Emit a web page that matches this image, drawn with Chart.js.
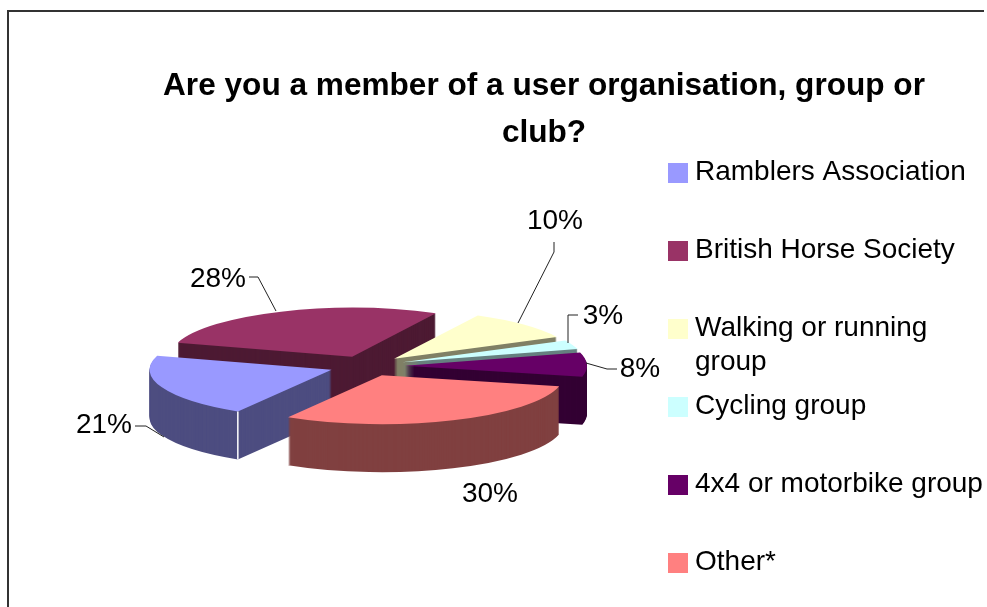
<!DOCTYPE html>
<html>
<head>
<meta charset="utf-8">
<title>Are you a member of a user organisation, group or club?</title>
<script src="https://cdn.jsdelivr.net/npm/chart.js@4/dist/chart.umd.js"></script>
<style>
    html, body { margin: 0; padding: 0; background: #fff; overflow: hidden; }
    canvas { display: block; }
</style>
</head>
<body>
<canvas id="memberChart" width="987" height="607"></canvas>
<script>
const categories = [
    'Ramblers Association',
    'British Horse Society',
    'Walking or running group',
    'Cycling group',
    '4x4 or motorbike group',
    'Other*'
];
const memberPercent = [21, 28, 10, 3, 8, 30];
const titleLines = ['Are you a member of a user organisation, group or', 'club?'];

const topColors = ['#9999ff', '#993366', '#ffffcc', '#ccffff', '#660066', '#ff8080'];
const sideColors = ['#4d4d80', '#4d1a33', '#808066', '#668080', '#330033', '#804040'];

// where the tilted pie sits on the page
const pieCenter = { x: 367, y: 366 };
const pieSquash = 0.268;
const pieDepth = 48;
const pieExplode = 38;

// label text centre, then the leader line going in to the slice
const labelSpots = [
    { x: 104, y: 425, leader: [[135, 426], [146, 426], [164, 437]] },
    { x: 218, y: 279, leader: [[249, 277], [258, 277], [276, 311]] },
    { x: 555, y: 221, leader: [[554, 242], [554, 252], [518, 323]] },
    { x: 603, y: 316, leader: [[578, 315], [568, 315], [568, 343]] },
    { x: 640, y: 369, leader: [[617, 369], [607, 369], [586, 363]] },
    { x: 490, y: 494, leader: null }
];

const legendSpot = { x: 668, y: 163, box: 20, textX: 695, pitch: 78, lineHeight: 34, maxWidth: 292 };
const textFont = '28px "Liberation Sans", Arial, sans-serif';

const drawSlice = (ctx, arc, color, drop) => {
    const mid = (arc.startAngle + arc.endAngle) / 2;
    const original = arc.options;
    arc.options = Object.assign({}, original, { backgroundColor: color });
    ctx.save();
    ctx.translate(pieCenter.x, pieCenter.y + drop);
    ctx.scale(1, pieSquash);
    ctx.translate(Math.cos(mid) * pieExplode - arc.x, Math.sin(mid) * pieExplode - arc.y);
    arc.draw(ctx);
    ctx.restore();
    arc.options = original;
};

const tiltedPie = {
    id: 'tiltedPie',
    beforeDraw(chart) {
        const { ctx } = chart;
        ctx.save();
        ctx.fillStyle = '#fff';
        ctx.fillRect(0, 0, chart.width, chart.height);
        ctx.strokeStyle = '#333';
        ctx.lineWidth = 2;
        ctx.beginPath();
        ctx.moveTo(8, 607);
        ctx.lineTo(8, 11);
        ctx.lineTo(984, 11);
        ctx.stroke();
        ctx.restore();
    },
    beforeDatasetDraw(chart, args) {
        const { ctx } = chart;
        // back slices first so the front ones cover them
        const order = args.meta.data
            .map((arc, i) => ({ arc, i }))
            .sort((a, b) => Math.sin((a.arc.startAngle + a.arc.endAngle) / 2) - Math.sin((b.arc.startAngle + b.arc.endAngle) / 2));

        for (const { arc, i } of order) {
            for (let drop = pieDepth; drop > 0; drop--) {
                drawSlice(ctx, arc, sideColors[i], drop);
            }
            drawSlice(ctx, arc, topColors[i], 0);

            if (i === 0) {
                // pale edge at the front corner of the first slice
                const mid = (arc.startAngle + arc.endAngle) / 2;
                const cornerX = pieCenter.x + Math.cos(mid) * pieExplode + Math.cos(arc.startAngle) * arc.outerRadius;
                const cornerY = pieCenter.y + (Math.sin(mid) * pieExplode + Math.sin(arc.startAngle) * arc.outerRadius) * pieSquash;
                ctx.save();
                ctx.strokeStyle = '#fff';
                ctx.lineWidth = 1.5;
                ctx.beginPath();
                ctx.moveTo(cornerX, cornerY);
                ctx.lineTo(cornerX, cornerY + pieDepth);
                ctx.stroke();
                ctx.restore();
            }
        }
        return false;
    },
    afterDraw(chart) {
        const { ctx } = chart;
        ctx.save();
        ctx.font = textFont;
        ctx.fillStyle = '#000';
        ctx.textBaseline = 'middle';

        // percent labels with leader lines
        ctx.textAlign = 'center';
        chart.data.datasets[0].data.forEach((value, i) => {
            const spot = labelSpots[i];
            ctx.fillText(value + '%', spot.x, spot.y);
            if (spot.leader) {
                ctx.strokeStyle = '#222';
                ctx.lineWidth = 1;
                ctx.beginPath();
                spot.leader.forEach(([x, y], n) => (n ? ctx.lineTo(x, y) : ctx.moveTo(x, y)));
                ctx.stroke();
            }
        });

        // legend, the built in one cannot wrap a label and keep the rows even
        ctx.textAlign = 'left';
        chart.data.labels.forEach((label, i) => {
            const boxY = legendSpot.y + i * legendSpot.pitch;
            ctx.fillStyle = topColors[i];
            ctx.fillRect(legendSpot.x, boxY, legendSpot.box, legendSpot.box);
            ctx.fillStyle = '#000';

            const lines = [];
            let line = '';
            for (const word of label.split(' ')) {
                const attempt = line ? line + ' ' + word : word;
                if (line && ctx.measureText(attempt).width > legendSpot.maxWidth) {
                    lines.push(line);
                    line = word;
                } else {
                    line = attempt;
                }
            }
            lines.push(line);
            lines.forEach((text, n) => {
                ctx.fillText(text, legendSpot.textX, boxY + 9 + n * legendSpot.lineHeight);
            });
        });
        ctx.restore();
    }
};

const chart = new Chart(document.getElementById('memberChart'), {
    type: 'pie',
    data: {
        labels: categories,
        datasets: [{
            data: memberPercent,
            backgroundColor: topColors,
            borderWidth: 0
        }]
    },
    options: {
        responsive: false,
        animation: false,
        events: [],
        rotation: 211,
        radius: 182,
        layout: { padding: { left: 101 } },
        plugins: {
            legend: { display: false },
            tooltip: { enabled: false },
            title: {
                display: true,
                text: titleLines,
                color: '#000',
                font: { family: '"Liberation Sans", Arial, sans-serif', size: 31.6, weight: 'bold', lineHeight: 1.49 },
                padding: { top: 63, bottom: 0 }
            }
        }
    },
    plugins: [tiltedPie]
});
</script>
</body>
</html>
